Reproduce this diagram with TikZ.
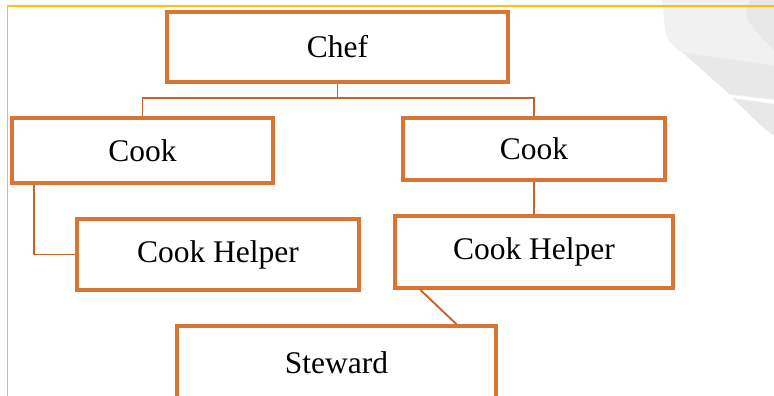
\documentclass[tikz,border=0pt]{standalone}
\usepackage{fontspec}
\setmainfont{Liberation Serif}
\usetikzlibrary{positioning}

\definecolor{boxorange}{RGB}{217,117,50}
\definecolor{linkorange}{RGB}{196,100,45}
\definecolor{framegold}{RGB}{255,192,0}

\begin{document}
\begin{tikzpicture}[x=1pt, y=-1pt,
        box/.style={rectangle, draw=boxorange, line width=3.6pt, fill=white, inner sep=0pt,
            font=\fontsize{31.5}{36}\selectfont},
        link/.style={-, draw=linkorange, line width=1.9pt},
        frame/.style={draw=framegold, line width=1.8pt}
    ]
        \clip (0,0) rectangle (774,396);

        % Watermark
        \fill[gray!11] (662,0) -- (665,30) .. controls (668,42) and (674,48) .. (682,52)
            -- (730,95) -- (774,100) -- (774,0) -- cycle;
        \fill[gray!18] (682,52) .. controls (700,56) and (740,60) .. (774,66)
            -- (774,99) -- (730,94) -- cycle;
        \fill[gray!18] (732,98) -- (774,104) -- (774,136) -- (766,130) -- cycle;
        \fill[gray!18] (750,0) -- (746,14) .. controls (748,24) and (760,36) .. (774,50)
            -- (774,0) -- cycle;

        % Frame
        \draw[frame] (774,6) -| (7.5,396);

        % Boxes
        \node[box, minimum width=341pt, minimum height=70pt] (chef) at (337.5,47) {Chef};
        \node[box, minimum width=261pt, minimum height=65pt] (cookL) at (142.5,150.5) {Cook};
        \node[box, minimum width=262pt, minimum height=62pt] (cookR) at (534,149) {Cook};
        \node[box, minimum width=282pt, minimum height=71pt] (helperL) at (218,254.5) {Cook Helper};
        \node[box, minimum width=278pt, minimum height=72pt] (helperR) at (534,252) {Cook Helper};
        \node[box, minimum width=319pt, minimum height=74pt] (steward) at (336.5,363) {Steward};

        % Links
        \draw[link] (chef.south) -- ++(0,14) coordinate (fork) -| (cookL.north);
        \draw[link] (fork) -| (cookR.north);
        \draw[link] ([xshift=24pt]cookL.south west) |- (helperL.west);
        \draw[link] (cookR.south) -- (helperR.north);
        \draw[link] ([xshift=27pt]helperR.south west) -- ([xshift=120pt]steward.north);

    \end{tikzpicture}
\end{document}
